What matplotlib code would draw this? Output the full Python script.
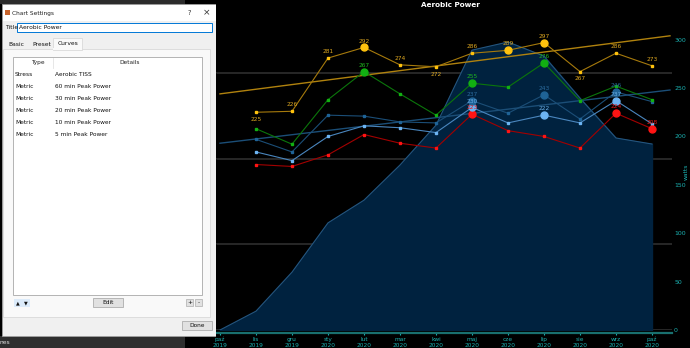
import matplotlib
matplotlib.use("Agg")
import matplotlib.pyplot as plt
from matplotlib.patches import Rectangle
import numpy as np

W, H = 690, 348

# ---------------- data ----------------
months = ["paź\n2019", "lis\n2019", "gru\n2019", "sty\n2020", "lut\n2020", "mar\n2020",
          "kwi\n2020", "maj\n2020", "cze\n2020", "lip\n2020", "sie\n2020", "wrz\n2020",
          "paź\n2020"]

# Aerobic TISS (own hidden axis)
tiss = [0, 4.4, 13.5, 25.0, 30.3, 38.5, 47.8, 65.3, 67.2, 63.9, 54.1, 44.8, 43.4]

# peak power curves, lis 2019 .. paź 2020
peak_5min = [225, 226, 281, 292, 274, 272, 286, 289, 297, 267, 286, 273]
peak_10min = [208, 192, 238, 267, 244, 222, 255, 251, 276, 237, 252, 238]
peak_20min = [197, 184, 222, 221, 215, 214, 237, 224, 243, 218, 246, 236]
peak_30min = [184, 175, 200, 211, 209, 204, 230, 214, 222, 214, 237, 213]
peak_60min = [171, 169, 181, 202, 193, 188, 223, 206, 200, 188, 224, 208]

# trend lines (start / end)
trend_x = [0, 12.5]
trend_5min = [244, 304]
trend_20min = [193, 248]

power_ticks = [0, 50, 100, 150, 200, 250, 300]
tiss_ticks = [0, 20, 40, 60]

curve_types = ["Stress", "Metric", "Metric", "Metric", "Metric", "Metric"]
curve_details = ["Aerobic TISS", "60 min Peak Power", "30 min Peak Power",
                 "20 min Peak Power", "10 min Peak Power", "5 min Peak Power"]

TEAL = "#1AB0B0"


def px_axes(x0, y0, x1, y1):
    return [x0 / W, 1 - y1 / H, (x1 - x0) / W, (y1 - y0) / H]


fig = plt.figure(figsize=(W / 100, H / 100), dpi=100, facecolor="black")

# =========================
# CHART
# =========================

ax = fig.add_axes(px_axes(216, 30, 672, 330))
ax.set_facecolor("black")
x_all = np.arange(len(months))
ax.fill_between(x_all, tiss, color="#00223F", zorder=1)
ax.plot(x_all, tiss, color="#24557E", lw=0.8, zorder=2)
ax.set_ylim(0, 70)
ax.set_yticks(tiss_ticks)
ax.grid(axis="y", color="#2B2B2B", lw=1.3)
ax.set_axisbelow(True)
ax.tick_params(axis="y", left=False, labelleft=False, right=False)
ax.set_xlim(-0.111, 12.556)
ax.set_xticks(x_all)
ax.set_xticklabels(months, linespacing=1.1)
ax.tick_params(axis="x", colors=TEAL, length=1.5, width=0.8, pad=1.0,
               labelcolor=TEAL, labelsize=4.2)
for s in ["top", "left", "right"]:
    ax.spines[s].set_visible(False)
ax.spines["bottom"].set_color("#19706F")
ax.spines["bottom"].set_linewidth(1.6)
ax.spines["bottom"].set_position(("outward", 2.5))

axp = ax.twinx()
axp.set_ylim(0, 310)
axp.set_yticks(power_ticks)
axp.set_yticklabels([str(t) for t in power_ticks])
axp.tick_params(axis="y", length=0, pad=1.5, labelcolor=TEAL, labelsize=4.5)
for s in axp.spines.values():
    s.set_visible(False)

x_pts = np.arange(1, len(months))

series = [
    (peak_60min, "#A30000", "#FF1414", "#E81818", False),
    (peak_30min, "#4A86BE", "#6DB4F2", "#6AAEE6", False),
    (peak_20min, "#1B4E77", "#1F6396", "#2A6A9C", False),
    (peak_10min, "#0B760B", "#12B012", "#1FB51F", False),
    (peak_5min, "#A67A0C", "#FFC20E", "#DDA721", True),
]
below_5min = [True, False, False, False, False, True, False, False, False, True, False, False]

axp.plot(trend_x, trend_20min, color="#1B4E77", lw=1.0, zorder=3)
axp.plot(trend_x, trend_5min, color="#B0820E", lw=1.0, zorder=3)

for vals, lc, mc, tc, label_all in series:
    vals = np.array(vals)
    axp.plot(x_pts, vals, color=lc, lw=0.8, zorder=4)
    axp.plot(x_pts, vals, ls="none", marker="s", ms=2.0, mfc=mc, mec=mc, zorder=5)
    top = np.argsort(vals)[-3:]
    axp.plot(x_pts[top], vals[top], ls="none", marker="o", ms=5.0, mfc=mc, mec=mc, zorder=6)
    idx = range(len(vals)) if label_all else top
    for i in idx:
        if label_all and below_5min[i]:
            axp.annotate(str(vals[i]), (x_pts[i], vals[i]), xytext=(0, -3.5),
                         textcoords="offset points", ha="center", va="top",
                         color=tc, fontsize=4.2, zorder=7)
        else:
            axp.annotate(str(vals[i]), (x_pts[i], vals[i]), xytext=(0, 2.8),
                         textcoords="offset points", ha="center", va="bottom",
                         color=tc, fontsize=4.2, zorder=7)

fig.text(450 / W, 1 - 5 / H, "Aerobic Power", color="white", fontsize=5.2,
         fontweight="bold", ha="center", va="center")
fig.text(686 / W, 1 - 172 / H, "watts", color=TEAL, fontsize=4.3, rotation=90,
         ha="center", va="center")

# =========================
# DIALOG OVERLAY
# =========================

dax = fig.add_axes([0, 0, 216 / W, 1])
dax.set_xlim(0, 216)
dax.set_ylim(H, 0)
dax.axis("off")
dax.set_zorder(10)

dax.add_patch(Rectangle((0, 0), 185, 4, fc="#2B2B2B", ec="none"))
dax.add_patch(Rectangle((0, 336), 185, 12, fc="#2E2E2E", ec="none"))
dax.text(0, 343, "nes", color="#DDDDDD", fontsize=4.3, va="center")

dax.add_patch(Rectangle((2, 4), 214, 332, fc="#F0F0F0", ec="#A0A0A0", lw=0.6))
dax.add_patch(Rectangle((2.5, 4.5), 213, 16.5, fc="white", ec="none"))
dax.add_patch(Rectangle((5, 10), 5, 5, fc="#C8642C", ec="none"))
dax.text(12, 13, "Chart Settings", fontsize=4.2, va="center", color="#222222")
dax.text(189, 13, "?", fontsize=4.8, va="center", ha="center", color="#333333")
dax.text(207, 13, "×", fontsize=6.5, va="center", ha="center", color="#333333")

dax.text(5, 27.5, "Title", fontsize=4.3, va="center", color="#111111")
dax.add_patch(Rectangle((17, 23), 195, 9, fc="white", ec="#0078D7", lw=0.7))
dax.text(19, 27.5, "Aerobic Power", fontsize=4.3, va="center", color="#111111")

dax.add_patch(Rectangle((3, 49), 207, 268, fc="#F9F9F9", ec="#D9D9D9", lw=0.6))
dax.add_patch(Rectangle((53, 37.5), 29, 12, fc="#F9F9F9", ec="#D9D9D9", lw=0.6))
dax.add_patch(Rectangle((53.4, 48), 28.2, 2, fc="#F9F9F9", ec="none"))
dax.text(8, 44, "Basic", fontsize=4.3, va="center", color="#111111")
dax.text(32, 44, "Preset", fontsize=4.3, va="center", color="#111111")
dax.text(58, 43.5, "Curves", fontsize=4.3, va="center", color="#111111")

dax.add_patch(Rectangle((13, 57), 189, 238, fc="white", ec="#A8A8A8", lw=0.6))
dax.plot([53, 53], [57.5, 68], color="#E3E3E3", lw=0.6)
dax.text(38, 62.5, "Type", fontsize=4.2, va="center", ha="center", color="#222222")
dax.text(130, 62.5, "Details", fontsize=4.2, va="center", ha="center", color="#222222")
for i, (t, d) in enumerate(zip(curve_types, curve_details)):
    y = 75 + i * 11.8
    dax.text(15, y, t, fontsize=4.2, va="center", color="#111111")
    dax.text(55, y, d, fontsize=4.2, va="center", color="#111111")

dax.add_patch(Rectangle((14, 299), 16, 8, fc="#DCEBFA", ec="none"))
dax.text(18, 303, "▲", fontsize=3.5, va="center", ha="center", color="#111111")
dax.text(26, 303, "▼", fontsize=3.5, va="center", ha="center", color="#111111")
dax.add_patch(Rectangle((93, 298), 30, 9, fc="#E1E1E1", ec="#ADADAD", lw=0.6))
dax.text(108, 302.7, "Edit", fontsize=4.2, va="center", ha="center", color="#111111")
dax.add_patch(Rectangle((186, 299), 7, 7, fc="#E1E1E1", ec="#ADADAD", lw=0.5))
dax.add_patch(Rectangle((195, 299), 7, 7, fc="#E1E1E1", ec="#ADADAD", lw=0.5))
dax.text(189.5, 302.5, "+", fontsize=4.2, va="center", ha="center", color="#111111")
dax.text(198.5, 302.5, "-", fontsize=4.2, va="center", ha="center", color="#111111")
dax.add_patch(Rectangle((182, 321), 30, 9, fc="#E1E1E1", ec="#ADADAD", lw=0.6))
dax.text(197, 325.5, "Done", fontsize=4.2, va="center", ha="center", color="#111111")

fig.savefig("out.png", dpi=100, facecolor=fig.get_facecolor())
